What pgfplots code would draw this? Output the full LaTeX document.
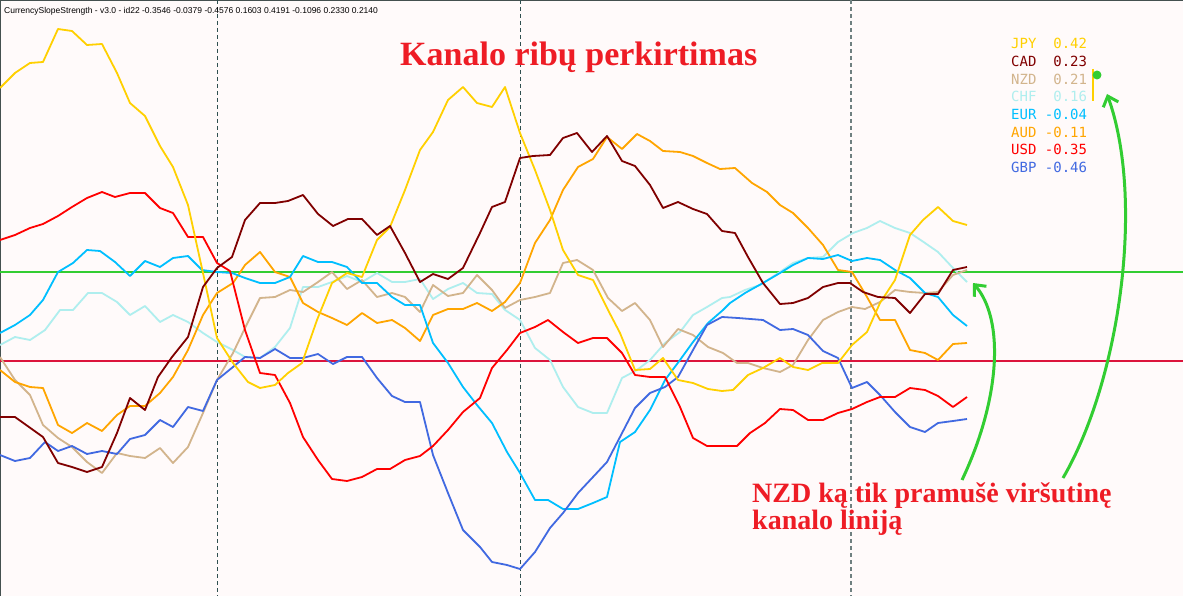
\documentclass[border=0pt]{standalone}
\usepackage{pgfplots}
\pgfplotsset{compat=1.18}
\usepackage{fontspec}
\usetikzlibrary{arrows.meta}
\setmainfont{Liberation Serif}
\newfontfamily\hdr{Liberation Sans}
\newfontfamily\mono{DejaVu Sans Mono}
\definecolor{bg}{HTML}{FFFAFA}
\definecolor{jpy}{HTML}{FFD000}
\definecolor{cad}{HTML}{800000}
\definecolor{nzd}{HTML}{D2B48C}
\definecolor{chf}{HTML}{AFEEEE}
\definecolor{eur}{HTML}{00BFFF}
\definecolor{aud}{HTML}{FFA500}
\definecolor{usd}{HTML}{FF0000}
\definecolor{gbp}{HTML}{4169E1}
\definecolor{lgreen}{HTML}{32CD32}
\definecolor{crim}{HTML}{DC143C}
\definecolor{ttlred}{HTML}{EE1C25}
\definecolor{sepA}{HTML}{2F4F4F}
\definecolor{sepB}{HTML}{6F8080}
\definecolor{frame}{HTML}{44504F}
\newcommand\legtxt[2]{\mono\fontsize{14}{16}\selectfont\color{#1}#2}
\begin{document}
\begin{tikzpicture}
\begin{axis}[scale only axis, width=1183pt, height=596pt,
  xmin=0, xmax=1183, ymin=0, ymax=596, y dir=reverse, hide axis, clip=true,
  every axis plot/.append style={line width=1.8pt, line join=round, no markers}]
\fill[bg] (axis cs:0,0) rectangle (axis cs:1183,596);
\draw[frame, line width=1.5pt] (axis cs:0.5,596) -- (axis cs:0.5,0.5) -- (axis cs:1183,0.5);
% vertical separators
\addplot[sepA, line width=1pt, dash pattern=on 4pt off 3pt] coordinates {(217,0)(217,596)};
\addplot[sepA, line width=1pt, dash pattern=on 4pt off 3pt] coordinates {(520,0)(520,596)};
\addplot[sepB, line width=1.2pt, dash pattern=on 4pt off 3pt] coordinates {(851,0)(851,596)};
% channel lines
\addplot[lgreen, line width=2pt] coordinates {(0,272)(1183,272)};
\addplot[crim, line width=2pt] coordinates {(0,361)(1183,361)};
% CHF
\addplot[chf] coordinates {(0,345)(15,337)(30,340)(45,330)(60,310)(73,310)(88,293)(102,293)(117,302)(130,315)(145,306)(160,322)(173,315)(188,322)(203,333)(217,342)(233,350)(245,357)(260,358)(275,347)(290,328)(303,287)(318,287)(332,282)(347,276)(362,282)(377,273)(392,282)(405,282)(420,279)(433,299)(448,289)(463,283)(477,293)(492,294)(505,310)(520,320)(535,348)(550,360)(563,387)(578,407)(593,413)(607,413)(622,378)(637,370)(650,360)(665,343)(680,332)(693,315)(707,307)(722,298)(730,297)(745,290)(760,285)(780,272)(793,263)(808,258)(823,257)(838,242)(853,233)(867,228)(880,221)(895,228)(910,233)(925,243)(938,252)(953,268)(967,282)};
% NZD
\addplot[nzd] coordinates {(0,357)(15,380)(30,395)(43,425)(58,438)(72,447)(87,462)(102,473)(117,453)(130,456)(145,458)(160,448)(173,463)(188,447)(203,413)(217,380)(233,353)(245,328)(260,298)(275,297)(290,290)(303,292)(318,282)(332,272)(347,289)(362,280)(377,297)(392,293)(405,297)(420,312)(433,285)(448,296)(463,293)(477,275)(492,290)(505,308)(520,300)(535,297)(550,293)(563,263)(577,260)(593,270)(608,298)(622,311)(635,303)(650,320)(663,347)(678,329)(693,335)(708,347)(723,353)(737,363)(748,363)(763,368)(780,372)(793,365)(808,340)(823,320)(838,312)(852,307)(865,309)(880,302)(895,290)(910,292)(925,293)(938,292)(953,275)(967,270)};
% AUD
\addplot[aud] coordinates {(0,370)(15,382)(30,387)(43,388)(58,425)(72,433)(87,423)(102,431)(117,415)(130,406)(145,406)(160,393)(173,377)(188,350)(203,315)(217,293)(233,283)(245,265)(260,252)(275,272)(290,277)(303,303)(318,312)(332,318)(347,325)(362,313)(377,323)(392,320)(405,328)(420,341)(433,315)(448,309)(463,309)(477,303)(492,311)(505,302)(520,283)(535,243)(550,220)(563,190)(578,167)(593,159)(607,137)(622,149)(637,134)(650,141)(663,151)(680,152)(693,156)(707,163)(720,169)(735,168)(752,183)(767,192)(780,205)(793,213)(808,228)(823,245)(838,270)(852,272)(867,297)(880,320)(895,320)(910,350)(925,353)(938,360)(953,344)(967,343)};
% EUR
\addplot[eur] coordinates {(0,333)(15,325)(30,315)(43,300)(58,272)(73,263)(87,250)(100,251)(115,262)(130,276)(145,261)(160,267)(173,258)(188,256)(202,270)(217,272)(232,273)(245,278)(260,283)(275,283)(290,277)(303,256)(318,262)(332,262)(347,267)(362,283)(377,283)(392,297)(405,305)(420,305)(433,343)(448,363)(463,387)(477,405)(492,423)(507,452)(520,473)(535,500)(548,500)(563,509)(578,509)(593,503)(607,497)(620,442)(635,432)(650,410)(665,380)(680,360)(693,342)(708,323)(723,310)(730,303)(745,293)(763,283)(780,273)(793,265)(808,258)(823,259)(838,255)(852,261)(867,258)(880,260)(895,270)(910,278)(925,293)(938,297)(953,315)(967,326)};
% GBP
\addplot[gbp] coordinates {(0,455)(15,461)(30,458)(45,442)(58,451)(72,446)(87,454)(102,451)(117,454)(130,439)(145,435)(160,420)(173,427)(188,407)(203,411)(217,380)(233,367)(245,357)(260,358)(275,349)(290,358)(303,358)(318,354)(333,364)(347,357)(362,357)(377,378)(392,396)(405,402)(420,402)(433,455)(448,493)(463,530)(480,547)(492,562)(507,565)(520,569)(535,552)(550,528)(563,513)(578,493)(593,477)(607,462)(620,437)(635,408)(650,393)(665,387)(678,377)(693,350)(707,325)(722,317)(738,318)(763,320)(780,330)(793,329)(808,335)(823,351)(838,358)(852,388)(867,382)(880,395)(895,412)(910,427)(925,432)(938,423)(953,421)(967,419)};
% USD
\addplot[usd] coordinates {(0,240)(15,235)(30,228)(43,224)(58,216)(72,207)(87,198)(102,192)(115,197)(130,193)(145,193)(160,208)(173,213)(188,237)(203,237)(217,263)(230,271)(245,330)(260,373)(275,375)(290,403)(303,437)(318,460)(332,479)(347,481)(362,477)(377,469)(390,469)(405,460)(420,456)(433,446)(448,430)(463,412)(480,398)(492,368)(507,350)(520,333)(535,327)(548,320)(563,332)(578,343)(593,338)(607,338)(622,353)(635,375)(650,377)(665,377)(680,407)(693,438)(707,446)(723,446)(737,446)(750,433)(765,423)(780,409)(793,410)(808,420)(823,420)(838,413)(852,409)(867,402)(880,397)(895,397)(910,388)(925,390)(938,396)(953,407)(967,397)};
% JPY
\addplot[jpy] coordinates {(0,88)(15,73)(30,63)(43,62)(58,29)(72,31)(87,45)(102,44)(117,73)(130,103)(145,116)(160,146)(173,167)(188,205)(203,273)(217,338)(233,363)(248,382)(260,388)(275,385)(288,373)(302,363)(317,320)(332,283)(347,273)(362,277)(377,240)(390,227)(405,190)(420,150)(433,132)(448,100)(463,87)(477,103)(492,107)(505,87)(520,133)(535,170)(550,210)(563,250)(578,275)(593,280)(608,310)(620,333)(635,370)(650,369)(663,358)(678,380)(693,383)(708,389)(722,391)(733,390)(748,375)(763,368)(780,358)(793,367)(808,370)(822,363)(838,363)(852,345)(867,332)(880,303)(895,280)(910,235)(923,220)(938,207)(953,221)(967,225)};
% CAD
\addplot[cad] coordinates {(0,417)(15,417)(43,437)(58,463)(72,467)(87,472)(102,467)(117,433)(130,398)(145,410)(158,377)(172,357)(188,337)(203,287)(217,268)(232,257)(245,220)(260,203)(275,203)(288,201)(303,195)(318,214)(333,226)(348,219)(362,219)(377,235)(390,226)(405,253)(420,282)(433,274)(448,279)(463,268)(480,233)(492,207)(505,202)(520,158)(533,156)(550,155)(563,138)(577,133)(592,152)(607,136)(622,161)(635,166)(650,185)(663,208)(678,202)(693,209)(707,214)(722,231)(735,233)(748,257)(763,283)(780,304)(793,303)(808,298)(823,287)(838,283)(850,283)(863,292)(878,297)(895,298)(910,313)(925,294)(938,294)(953,270)(967,267)};
% indicator next to legend
\addplot[jpy, line width=2.5pt] coordinates {(1093,69)(1093,101)};
\addplot[only marks, mark=*, mark size=3.5pt, lgreen, draw=lgreen] coordinates {(1097,75)};
% header
\node[anchor=base west, inner sep=0pt, text=black] at (axis cs:4,14) {\hdr\fontsize{8.5}{10}\selectfont CurrencySlopeStrength - v3.0 - id22 -0.3546 -0.0379 -0.4576 0.1603 0.4191 -0.1096 0.2330 0.2140};
% title
\node[anchor=base west, inner sep=0pt, text=ttlred] at (axis cs:400,66) {\fontsize{34}{40}\selectfont\bfseries Kanalo ribų perkirtimas};
% annotation
\node[anchor=base west, inner sep=0pt, text=ttlred] at (axis cs:752,502) {\fontsize{28}{32}\selectfont\bfseries NZD ką tik pramušė viršutinę};
\node[anchor=base west, inner sep=0pt, text=ttlred] at (axis cs:752,529) {\fontsize{28}{32}\selectfont\bfseries kanalo liniją};
% legend
\node[anchor=base west, inner sep=0pt] at (axis cs:1011,49) {\legtxt{jpy}{JPY\ \ 0.42}};
\node[anchor=base west, inner sep=0pt] at (axis cs:1011,67) {\legtxt{cad}{CAD\ \ 0.23}};
\node[anchor=base west, inner sep=0pt] at (axis cs:1011,85) {\legtxt{nzd}{NZD\ \ 0.21}};
\node[anchor=base west, inner sep=0pt] at (axis cs:1011,102) {\legtxt{chf}{CHF\ \ 0.16}};
\node[anchor=base west, inner sep=0pt] at (axis cs:1011,120) {\legtxt{eur}{EUR\ -0.04}};
\node[anchor=base west, inner sep=0pt] at (axis cs:1011,138) {\legtxt{aud}{AUD\ -0.11}};
\node[anchor=base west, inner sep=0pt] at (axis cs:1011,155) {\legtxt{usd}{USD\ -0.35}};
\node[anchor=base west, inner sep=0pt] at (axis cs:1011,173) {\legtxt{gbp}{GBP\ -0.46}};
% arrows
\draw[lgreen, line width=3pt, -{Straight Barb[length=9pt,width=16pt]}] (axis cs:962,480) .. controls (axis cs:1000,400) and (axis cs:1005,320) .. (axis cs:973,283);
\draw[lgreen, line width=3pt, -{Straight Barb[length=9pt,width=16pt]}] (axis cs:1063,478) .. controls (axis cs:1120,380) and (axis cs:1145,200) .. (axis cs:1107,94);
\end{axis}
\end{tikzpicture}
\end{document}
